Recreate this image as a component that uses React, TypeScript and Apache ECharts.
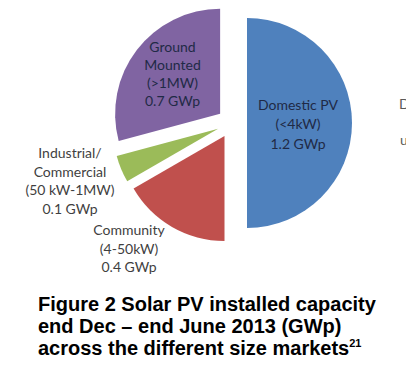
import React, { useEffect, useRef } from "react";
import * as echarts from "echarts";

const categories = ["Domestic PV", "Community", "Industrial/\nCommercial", "Ground\nMounted"];
const sizeBands = ["(<4kW)", "(4-50kW)", "(50 kW-1MW)", "(>1MW)"];
const capacityGWp = [1.2, 0.4, 0.1, 0.7];
const sliceColors = ["#4F81BD", "#C0504D", "#9BBB59", "#8064A2"];
const titleLines = [
  "Figure 2 Solar PV installed capacity",
  "end Dec \u2013 end June 2013 (GWp)",
  "across the different size markets",
];
const footnote = "21";

// label placement (layout, not data)
const labelPos: [number, number][] = [
  [298, 123.5],
  [129, 248],
  [70, 180.5],
  [172.5, 73.5],
];
const labelColors = ["#1f2a46", "#3f3f3f", "#3f3f3f", "#1f2a46"];
const labelLineHeights = [19.5, 18.7, 18.5, 18];

export default function App() {
  const ref = useRef<HTMLDivElement>(null);
  useEffect(() => {
    if (!ref.current) return;
    const chart = echarts.init(ref.current, undefined, { renderer: "svg" });
    const font = "Lato, 'Noto Sans', sans-serif";
    const common = {
      type: "pie",
      center: [232, 123],
      radius: 105,
      startAngle: 90,
      clockwise: true,
      emphasis: { disabled: true },
      labelLine: { show: false },
    };
    chart.setOption({
      animation: false,
      backgroundColor: "#ffffff",
      title: {
        text:
          titleLines[0] + "\n" + titleLines[1] + "\n" + titleLines[2] + "{sup|" + footnote + "}",
        left: 38,
        top: 293,
        padding: 0,
        textStyle: {
          fontFamily: "'Liberation Sans', Arial, sans-serif",
          fontWeight: "bold",
          fontSize: 20,
          lineHeight: 22,
          color: "#000000",
          rich: {
            sup: {
              fontFamily: "'Liberation Sans', Arial, sans-serif",
              fontWeight: "bold",
              fontSize: 11,
              lineHeight: 11,
              verticalAlign: "top",
              color: "#000000",
            },
          },
        },
      },
      graphic: [
        {
          type: "text",
          left: 399,
          top: 96,
          style: { text: "D", font: "14px Lato", fill: "#595959" },
        },
        {
          type: "text",
          left: 400,
          top: 132,
          style: { text: "u", font: "14px Lato", fill: "#595959" },
        },
      ],
      series: [
        {
          ...common,
          selectedMode: "multiple",
          selectedOffset: 15,
          itemStyle: { borderWidth: 0 },
          label: { show: false },
          data: categories.map((name, i) => ({
            name,
            value: capacityGWp[i],
            selected: true,
            itemStyle: { color: sliceColors[i] },
          })),
        },
        {
          ...common,
          silent: true,
          selectedMode: false,
          itemStyle: { color: "rgba(0,0,0,0)", borderWidth: 0 },
          label: {
            show: true,
            position: "inside",
            fontFamily: font,
            fontSize: 14,
            align: "center",
          },
          labelLayout: (p: any) => ({
            x: labelPos[p.dataIndex][0],
            y: labelPos[p.dataIndex][1],
            align: "center",
            verticalAlign: "middle",
          }),
          data: categories.map((name, i) => ({
            name,
            value: capacityGWp[i],
            label: {
              formatter: name + "\n" + sizeBands[i] + "\n" + capacityGWp[i].toFixed(1) + " GWp",
              color: labelColors[i],
              lineHeight: labelLineHeights[i],
            },
          })),
        },
      ],
    });
    return () => chart.dispose();
  }, []);
  return (
    <div
      ref={ref}
      style={{ position: "absolute", left: 0, top: 0, width: 406, height: 365 }}
    />
  );
}
